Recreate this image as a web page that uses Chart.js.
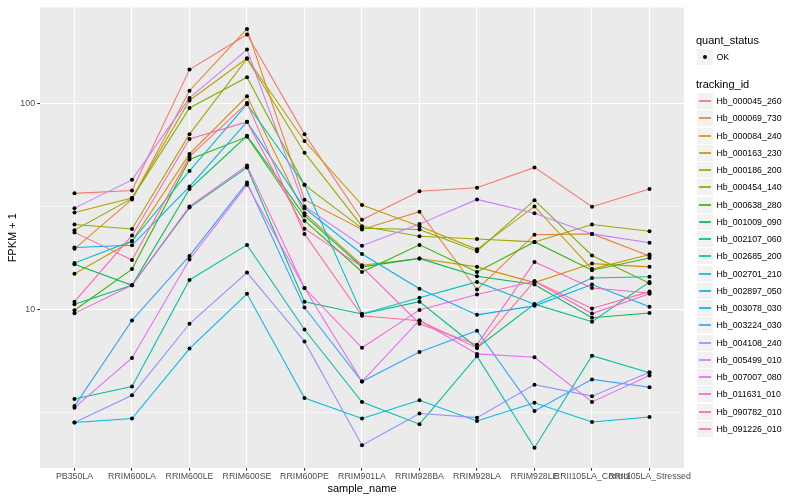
<!DOCTYPE html>
<html><head><meta charset="utf-8">
<script src="https://cdn.jsdelivr.net/npm/chart.js@4"></script>
<style>
html,body{margin:0;padding:0;background:#fff;}
#wrap{position:relative;width:800px;height:500px;font-family:"Liberation Sans",Arial,Helvetica,sans-serif;overflow:hidden;}
#c{position:absolute;left:0;top:0;}
#legend{position:absolute;left:0;top:0;width:800px;height:500px;pointer-events:none;}
.lt{position:absolute;font-size:11px;line-height:13px;color:#000;white-space:nowrap;}
.lk{position:absolute;width:16px;height:16px;background:#F2F2F2;}
.ll{position:absolute;left:2px;width:12px;height:2px;top:7px;opacity:0.85;}
.ld{position:absolute;left:6px;top:6px;width:4px;height:4px;border-radius:2px;background:#000;}
.lx{position:absolute;font-size:8.8px;line-height:10px;color:#000;white-space:nowrap;}
</style>
</head><body>
<div id="wrap">
<canvas id="c" width="800" height="500"></canvas>
<div id="legend"></div>
</div>
<script>
// ---- data ----
const categories = ["PB350LA","RRIM600LA","RRIM600LE","RRIM600SE","RRIM600PE","RRIM901LA","RRIM928BA","RRIM928LA","RRIM928LE","RRII105LA_Control","RRII105LA_Stressed"];
const trackingIds = ["Hb_000045_260","Hb_000069_730","Hb_000084_240","Hb_000163_230","Hb_000186_200","Hb_000454_140","Hb_000638_280","Hb_001009_090","Hb_002107_060","Hb_002685_200","Hb_002701_210","Hb_002897_050","Hb_003078_030","Hb_003224_030","Hb_004108_240","Hb_005499_010","Hb_007007_080","Hb_011631_010","Hb_090782_010","Hb_091226_010"];
const seriesColors = ["#F8766D","#EA8331","#D89000","#C09B00","#A3A500","#7CAE00","#39B600","#00BB4E","#00BF7D","#00C1A3","#00BFC4","#00BAE0","#00B0F6","#35A2FF","#9590FF","#C77CFF","#E76BF3","#FA62DB","#FF62BC","#FF6C91"];

const hb_000045_260 = [36.7, 37.9, 147, 218, 71.3, 27.3, 37.6, 39.1, 49.1, 31.6, 38.5];
const hb_000069_730 = [19.7, 34.3, 116, 232, 34.2, 24.5, 29.9, 12.5, 23.1, 23.3, 18.2];
const hb_000084_240 = [14.9, 21.5, 57.1, 109, 29.4, 16.4, 17.7, 16.1, 13.5, 16.7, 16.1];
const hb_000163_230 = [29.6, 34.8, 104, 167, 66.0, 32.2, 25.4, 19.6, 31.7, 15.7, 18.5];
const hb_000186_200 = [25.9, 24.6, 71.3, 166, 57.9, 25.4, 22.7, 22.0, 21.3, 25.9, 24.0];
const hb_000454_140 = [24.3, 34.7, 95.6, 135, 40.4, 24.8, 24.5, 19.2, 34.0, 18.3, 13.4];
const hb_000638_280 = [9.9, 15.7, 53.7, 69.2, 27.0, 15.2, 20.6, 15.2, 21.3, 15.5, 17.8];
const hb_001009_090 = [16.6, 13.1, 38.5, 70.0, 28.6, 16.1, 17.7, 14.5, 13.2, 9.1, 9.6];
const hb_002107_060 = [10.6, 13.1, 31.3, 49.0, 10.9, 9.5, 10.9, 6.5, 10.6, 8.7, 13.6];
const hb_002685_200 = [3.66, 4.21, 13.9, 20.6, 7.98, 3.54, 2.76, 5.91, 2.12, 5.95, 4.91];
const hb_002701_210 = [16.8, 21.5, 47.2, 99.7, 40.4, 9.5, 11.4, 13.6, 10.6, 14.2, 14.4];
const hb_002897_050 = [2.81, 2.94, 6.44, 11.9, 3.70, 2.94, 3.61, 2.86, 3.51, 2.83, 2.99];
const hb_003078_030 = [20.0, 20.5, 39.6, 81.8, 31.1, 18.6, 12.6, 9.4, 10.4, 13.2, 10.3];
const hb_003224_030 = [3.38, 8.83, 18.2, 41.4, 10.2, 4.45, 6.20, 7.87, 3.20, 4.56, 4.18];
const hb_004108_240 = [2.81, 3.82, 8.51, 15.1, 6.98, 2.18, 3.11, 2.97, 4.30, 3.78, 4.94];
const hb_005499_010 = [31.1, 42.7, 107, 184, 31.7, 20.4, 26.0, 34.3, 29.4, 23.3, 21.1];
const hb_007007_080 = [3.32, 5.80, 17.5, 40.4, 12.7, 4.45, 8.85, 6.07, 5.84, 3.54, 4.76];
const hb_011631_010 = [9.56, 13.1, 31.7, 50.1, 12.7, 6.5, 9.94, 11.8, 13.7, 9.54, 11.9];
const hb_090782_010 = [10.9, 22.9, 67.5, 81.8, 24.7, 16.1, 8.51, 6.73, 17.0, 12.7, 12.0];
const hb_091226_010 = [23.7, 17.4, 55.4, 101, 23.3, 9.30, 8.80, 6.49, 13.7, 10.1, 12.2];

const seriesValues = [hb_000045_260, hb_000069_730, hb_000084_240, hb_000163_230, hb_000186_200, hb_000454_140, hb_000638_280, hb_001009_090, hb_002107_060, hb_002685_200, hb_002701_210, hb_002897_050, hb_003078_030, hb_003224_030, hb_004108_240, hb_005499_010, hb_007007_080, hb_011631_010, hb_090782_010, hb_091226_010];

const yMajorTicks = [10, 100];
const yMajorLabels = ["10", "100"];
const yMinorTicks = [3.1623, 31.623];
const yRange = [1.689, 294.9];
const xRange = [-0.6, 10.6];

// ---- chart ----
const FONT = '"Liberation Sans", Arial, Helvetica, sans-serif';
const panelBg = {
  id: 'panelBg',
  beforeDraw(chart) {
    const {ctx, chartArea: a} = chart;
    ctx.save();
    ctx.fillStyle = '#EBEBEB';
    ctx.fillRect(a.left, a.top, a.right - a.left, a.bottom - a.top);
    ctx.restore();
  }
};

const datasets = [];
const allPoints = [];
seriesValues.forEach(vals => vals.forEach((v, j) => allPoints.push({x: j, y: v})));
datasets.push({
  label: 'OK', data: allPoints, showLine: false, pointRadius: 2, pointHoverRadius: 2,
  pointBackgroundColor: '#000', pointBorderWidth: 0, borderColor: '#000', order: 0
});
seriesValues.forEach((vals, i) => {
  datasets.push({
    label: trackingIds[i],
    data: vals.map((v, j) => ({x: j, y: v})),
    borderColor: seriesColors[i], backgroundColor: seriesColors[i],
    borderWidth: 1.07, pointRadius: 0, pointHoverRadius: 0, tension: 0, fill: false,
    order: 100 - i
  });
});

const isMajor = v => yMajorTicks.some(m => Math.abs(m - v) < 1e-6);

new Chart(document.getElementById('c'), {
  type: 'line',
  data: { datasets },
  options: {
    responsive: false, animation: false, devicePixelRatio: 1,
    layout: { padding: { left: 0, right: 116, top: 5, bottom: 0 } },
    plugins: { legend: { display: false }, tooltip: { enabled: false } },
    scales: {
      x: {
        type: 'linear', min: xRange[0], max: xRange[1],
        afterBuildTicks: s => { s.ticks = categories.map((c, i) => ({ value: i })); },
        afterFit: s => { s.height = 32; },
        ticks: {
          autoSkip: false, maxRotation: 0, minRotation: 0, padding: 0.5,
          color: '#4D4D4D', font: { family: FONT, size: 8.8 },
          callback: v => categories[v]
        },
        grid: { color: '#FFFFFF', lineWidth: 1.07, tickLength: 2.75, tickColor: '#333333', tickWidth: 1.07 },
        border: { display: false },
        title: { display: true, text: 'sample_name', color: '#000', font: { family: FONT, size: 11 }, padding: { top: 0, bottom: 4.4 } }
      },
      y: {
        type: 'logarithmic', min: yRange[0], max: yRange[1],
        afterBuildTicks: s => {
          s.ticks = yMinorTicks.concat(yMajorTicks).sort((a, b) => a - b).map(v => ({ value: v }));
        },
        afterFit: s => { s.width = 40; },
        ticks: {
          autoSkip: false, padding: 2.2, color: '#4D4D4D', font: { family: FONT, size: 8.8 },
          callback: v => { const k = yMajorTicks.findIndex(m => Math.abs(m - v) < 1e-6); return k >= 0 ? yMajorLabels[k] : ''; }
        },
        grid: {
          color: '#FFFFFF',
          lineWidth: c => (c.tick && isMajor(c.tick.value)) ? 1.07 : 0.53,
          tickLength: 2.75,
          tickColor: c => (c.tick && isMajor(c.tick.value)) ? '#333333' : 'rgba(0,0,0,0)',
          tickWidth: 1.07
        },
        border: { display: false },
        title: { display: true, text: 'FPKM + 1', color: '#000', font: { family: FONT, size: 11 }, padding: { top: 6.4, bottom: 0 } }
      }
    }
  },
  plugins: [panelBg]
});

// ---- legend (HTML text) ----
const lg = document.getElementById('legend');
function add(cls, left, top, text) {
  const d = document.createElement('div');
  d.className = cls; d.style.left = left + 'px'; d.style.top = top + 'px';
  if (text !== undefined) d.textContent = text;
  lg.appendChild(d); return d;
}
add('lt', 696, 34, 'quant_status');
const kOK = add('lk', 697, 49);
const dot = document.createElement('div'); dot.className = 'ld'; kOK.appendChild(dot);
add('lx', 716.5, 52, 'OK');
add('lt', 696, 78, 'tracking_id');
trackingIds.forEach((name, i) => {
  const cy = Math.round(101 + i * 17.26);
  const k = add('lk', 697, cy - 8);
  const l = document.createElement('div'); l.className = 'll'; l.style.background = seriesColors[i]; k.appendChild(l);
  add('lx', 716.5, cy - 5, name);
});
</script>
</body></html>
